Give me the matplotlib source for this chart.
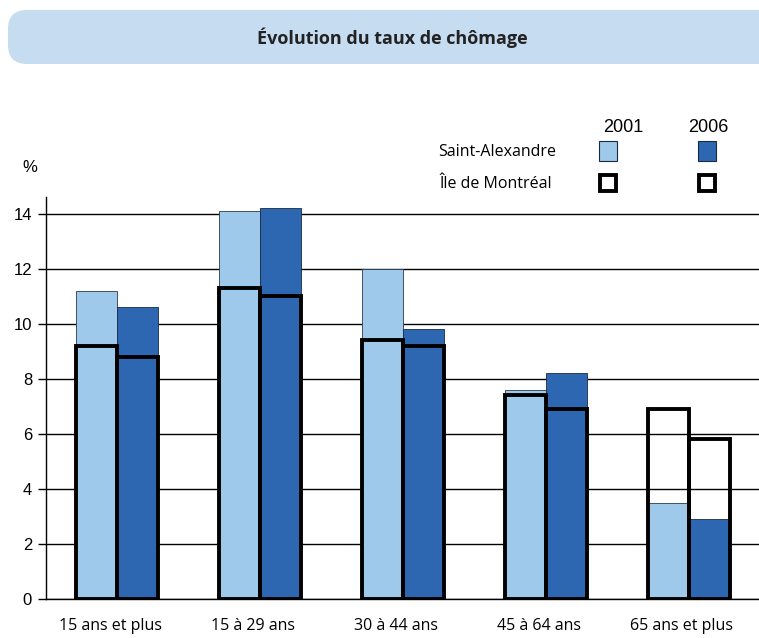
import matplotlib
matplotlib.use("Agg")
import matplotlib.pyplot as plt
from matplotlib.patches import FancyBboxPatch, Rectangle
from matplotlib.transforms import ScaledTranslation
import numpy as np

categories = ["15 ans et plus", "15 à 29 ans", "30 à 44 ans", "45 à 64 ans", "65 ans et plus"]
sa_2001 = [11.2, 14.1, 12.0, 7.6, 3.5]
sa_2006 = [10.6, 14.2, 9.8, 8.2, 2.9]
mtl_2001 = [9.2, 11.3, 9.4, 7.4, 6.9]
mtl_2006 = [8.8, 11.0, 9.2, 6.9, 5.8]
yticks = [0, 2, 4, 6, 8, 10, 12, 14]
years = ["2001", "2006"]
series_names = ["Saint-Alexandre", "Île de Montréal"]
title = "Évolution du taux de chômage"

LIGHT = "#9FC9EA"
DARK = "#2E67B1"

W, H = 759, 638
fig = plt.figure(figsize=(W / 100, H / 100), dpi=100)

def fx(px):
    return px / W

def fy(py):
    return 1 - py / H

# Title banner
banner = FancyBboxPatch((fx(8), fy(64)), fx(800) - fx(8), fy(10) - fy(64),
                        boxstyle="round,pad=0,rounding_size=0.025",
                        transform=fig.transFigure, facecolor="#C5DCF1",
                        edgecolor="none", mutation_aspect=W / H)
fig.patches.append(banner)
fig.text(fx(392), fy(38), title, ha="center", va="center", fontsize=13,
         fontweight="bold", color="#222222", family="Open Sans")

ax = fig.add_axes([fx(46), fy(599), 1 - fx(46), fy(197) - fy(599)])
x = np.arange(len(categories))
w = 0.287

ax.bar(x - w / 2, sa_2001, w, color=LIGHT, edgecolor="#2a3a50", linewidth=0.6, zorder=3)
ax.bar(x + w / 2, sa_2006, w, color=DARK, edgecolor="#1c2a40", linewidth=0.6, zorder=3)
ax.bar(x - w / 2, mtl_2001, w, fill=False, edgecolor="black", linewidth=2.8, zorder=4)
ax.bar(x + w / 2, mtl_2006, w, fill=False, edgecolor="black", linewidth=2.8, zorder=4)

ax.set_xlim(-0.5, 4.49)
ax.set_ylim(0, 14.6)
ax.set_yticks(yticks)
ax.set_yticklabels([str(v) for v in yticks], fontsize=12, family="Liberation Sans")
ax.yaxis.grid(True, color="black", linewidth=1.0, zorder=1)
ax.set_axisbelow(True)
ax.tick_params(axis="y", length=6, width=1, color="black", pad=4)
ax.set_xticks(x)
ax.set_xticklabels(categories, fontsize=11.5, family="Open Sans")
ax.tick_params(axis="x", length=0, pad=14)
offset = ScaledTranslation(-7 / 100, 0, fig.dpi_scale_trans)
for lbl in ax.get_xticklabels():
    lbl.set_transform(lbl.get_transform() + offset)
for s in ["top", "right"]:
    ax.spines[s].set_visible(False)
ax.spines["left"].set_linewidth(1.0)
ax.spines["bottom"].set_linewidth(1.0)

fig.text(fx(30), fy(167), "%", ha="center", va="center", fontsize=12, family="Liberation Sans")

# Legend
fig.text(fx(623), fy(128), years[0], ha="center", va="center", fontsize=13, family="Liberation Sans")
fig.text(fx(708), fy(128), years[1], ha="center", va="center", fontsize=13, family="Liberation Sans")
fig.text(fx(556), fy(152), series_names[0], ha="right", va="center", fontsize=11.5, family="Open Sans")
fig.text(fx(552), fy(184), series_names[1], ha="right", va="center", fontsize=11.5, family="Open Sans")
for cx, col in [(608, LIGHT), (707, DARK)]:
    fig.patches.append(Rectangle((fx(cx - 9), fy(161)), fx(18), fy(141) - fy(161),
                                 transform=fig.transFigure, facecolor=col,
                                 edgecolor="#1c2a40", linewidth=0.8))
    fig.patches.append(Rectangle((fx(cx - 8), fy(191)), fx(16), fy(175) - fy(191),
                                 transform=fig.transFigure, facecolor="white",
                                 edgecolor="black", linewidth=2.8))

fig.savefig("out.png", dpi=100)
